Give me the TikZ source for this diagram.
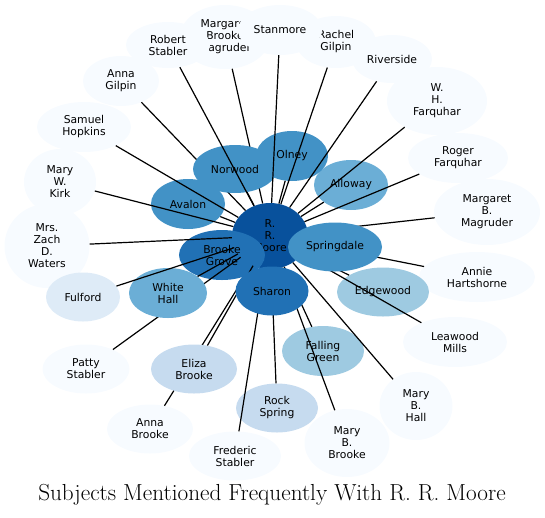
\documentclass[tikz,border=0pt]{standalone}
\usepackage{fontspec}
\newfontfamily\nodefont{DejaVu Sans}
\usetikzlibrary{shapes.geometric}
\definecolor{c0}{HTML}{F7FBFF}
\definecolor{c1}{HTML}{DEEBF7}
\definecolor{c2}{HTML}{C6DBEF}
\definecolor{c3}{HTML}{9ECAE1}
\definecolor{c4}{HTML}{6BAED6}
\definecolor{c5}{HTML}{4292C6}
\definecolor{c6}{HTML}{2171B5}
\definecolor{c7}{HTML}{08519C}
\tikzset{
  nd/.style={ellipse, inner sep=0pt, draw=none, align=center, text=black,
    font=\nodefont\fontsize{10.8}{12}\selectfont},
  link/.style={draw=black, line width=1.2pt},
  titlefont/.style={font=\fontsize{23.2}{26}\selectfont, anchor=base}
}
% name, x, y, width, height, colour, text
\newcommand\Nd[7]{\node[nd, fill=#6, minimum width=#4pt, minimum height=#5pt] (#1) at (#2pt,-#3pt) {#7};}
\begin{document}
\begin{tikzpicture}
\useasboundingbox (0,0) rectangle (545pt,-517pt);
% centre
\Nd{moore}{270}{236}{76}{66}{c7}{R.\\R.\\Moore}
% outer ring
\Nd{mbm}{225}{37}{90}{64}{c0}{Margaret\\Brooke\\Magruder}
\Nd{rachel}{336}{42}{80}{52}{c0}{Rachel\\Gilpin}
\Nd{riverside}{392}{59}{80}{48}{c0}{Riverside}
\Nd{stanmore}{280}{30}{84}{50}{c0}{Stanmore}
\Nd{rstabler}{168}{45}{84}{46}{c0}{Robert\\Stabler}
\Nd{agilpin}{121}{81}{76}{50}{c0}{Anna\\Gilpin}
\Nd{shopkins}{84}{127}{94}{50}{c0}{Samuel\\Hopkins}
\Nd{mwkirk}{60}{182}{72}{66}{c0}{Mary\\W.\\Kirk}
\Nd{waters}{47}{246}{85}{84}{c0}{Mrs.\\Zach\\D.\\Waters}
\Nd{whf}{437}{101}{100}{68}{c0}{W.\\H.\\Farquhar}
\Nd{rfarquhar}{458}{158}{100}{50}{c0}{Roger\\Farquhar}
\Nd{mbmag}{487}{212}{106}{66}{c0}{Margaret\\B.\\Magruder}
\Nd{annieh}{477}{277}{116}{50}{c0}{Annie\\Hartshorne}
\Nd{leawood}{455}{342}{104}{50}{c0}{Leawood\\Mills}
\Nd{mbhall}{416}{406}{73}{68}{c0}{Mary\\B.\\Hall}
\Nd{mbbrooke}{347}{443}{85}{68}{c0}{Mary\\B.\\Brooke}
\Nd{fstabler}{235}{456}{92}{49}{c0}{Frederic\\Stabler}
\Nd{abrooke}{150}{429}{86}{49}{c0}{Anna\\Brooke}
\Nd{pstabler}{86}{369}{87}{49}{c0}{Patty\\Stabler}
\Nd{fulford}{83}{297}{74}{49}{c1}{Fulford}
% edges that later nodes cover
\draw[link] (moore) -- (mbm);
\draw[link] (moore) -- (agilpin);
\draw[link] (moore) -- (annieh);
\draw[link] (moore) -- (mbmag);
\draw[link] (moore) -- (abrooke);
% inner nodes under the edges
\Nd{rockspring}{277}{408}{82}{49}{c2}{Rock\\Spring}
\Nd{eliza}{194}{369}{86}{49}{c2}{Eliza\\Brooke}
\Nd{falling}{323}{351}{82}{50}{c3}{Falling\\Green}
\Nd{edgewood}{383}{292}{92}{49}{c3}{Edgewood}
\Nd{alloway}{351}{185}{74}{50}{c4}{Alloway}
\Nd{avalon}{188}{204}{74}{50}{c5}{Avalon}
\Nd{norwood}{235}{169}{84}{48}{c5}{Norwood}
\Nd{olney}{292}{156}{72}{50}{c5}{Olney}
\Nd{brookegrove}{222}{255}{86}{50}{c6}{Brooke\\Grove}
\draw[link] (moore) -- (pstabler);
\Nd{whitehall}{168}{293}{78}{50}{c4}{White\\Hall}
% edges drawn over
\draw[link] (moore) -- (whitehall);
\draw[link] (moore) -- (rstabler);
\draw[link] (moore) -- (stanmore);
\draw[link] (moore) -- (rachel);
\draw[link] (moore) -- (riverside);
\draw[link] (moore) -- (whf);
\draw[link] (moore) -- (rfarquhar);
\draw[link] (moore) -- (shopkins);
\draw[link] (moore) -- (mwkirk);
\draw[link] (moore) -- (waters);
\draw[link] (moore) -- (fulford);
\draw[link] (moore) -- (eliza);
\draw[link] (moore) -- (rockspring);
\draw[link] (moore) -- (fstabler);
\draw[link] (moore) -- (falling);
\draw[link] (moore) -- (mbbrooke);
\draw[link] (moore) -- (mbhall);
\draw[link] (moore) -- (leawood);
\draw[link] (moore) -- (edgewood);
\draw[link] (moore) -- (alloway);
\draw[link] (moore) -- (avalon);
\draw[link] (moore) -- (norwood);
\draw[link] (moore) -- (olney);
% nodes on top
\Nd{springdale}{335}{247}{94}{49}{c5}{Springdale}
\Nd{sharon}{272}{291}{73}{49}{c6}{Sharon}
\node[titlefont] (title) at (272pt,-500pt) {Subjects Mentioned Frequently With R. R. Moore};
\end{tikzpicture}
\end{document}
